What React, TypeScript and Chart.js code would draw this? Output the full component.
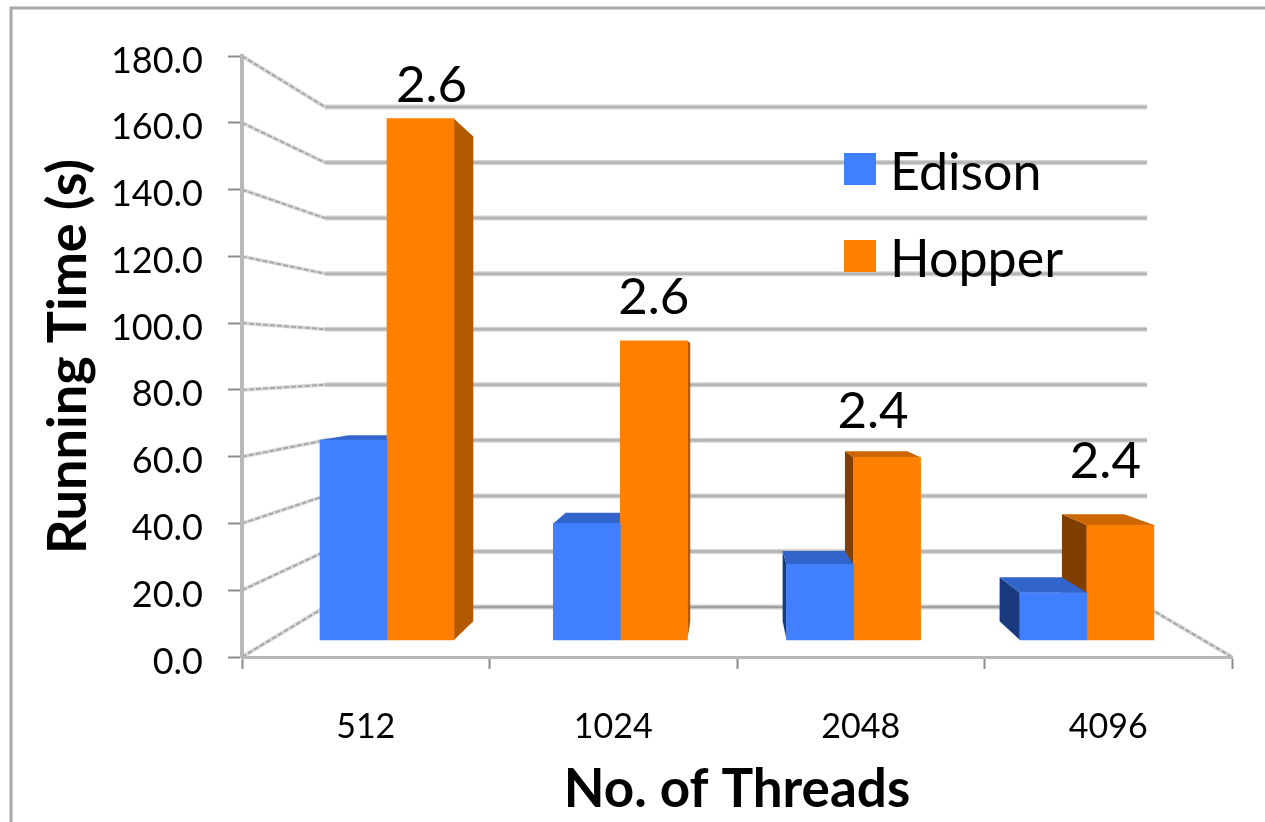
import React, { useEffect, useRef } from "react";
import { Chart, registerables } from "chart.js";

Chart.register(...registerables);

const threadCounts = ["512", "1024", "2048", "4096"];
const edisonTimes = [63.5, 37, 24, 15];
const hopperTimes = [165.5, 95, 58, 36.5];
const ratioLabels = ["2.6", "2.6", "2.4", "2.4"];
const ratioLabelDx = [11, 0, -14, -15];
const ratioLabelDy = [-33, -43, -46, -63];

const FONT = "Lato, Carlito, 'Open Sans', sans-serif";
const EDISON = { front: "#4080ff", top: "#3265cc", side: "#1a3a80" };
const HOPPER = { front: "#ff8000", top: "#cc6600", right: "#b35900", left: "#803f00" };
const VP = { x: 730, y: 372, k: 0.07 };
const backX = (x: number) => x + (VP.x - x) * VP.k;
const backY = (y: number) => y + (VP.y - y) * VP.k;

function quad(ctx: CanvasRenderingContext2D, pts: number[][], color: string) {
  ctx.fillStyle = color;
  ctx.beginPath();
  pts.forEach((p, i) => (i ? ctx.lineTo(p[0], p[1]) : ctx.moveTo(p[0], p[1])));
  ctx.closePath();
  ctx.fill();
}

function drawBox(ctx: CanvasRenderingContext2D, bar: any, colors: any, isHopper: boolean) {
  const l = bar.x - bar.width / 2;
  const r = bar.x + bar.width / 2;
  const t = bar.y;
  const b = bar.base;
  if (backX(l) < l) {
    quad(ctx, [[l, t], [backX(l), backY(t)], [backX(l), backY(b)], [l, b]], isHopper ? colors.left : colors.side);
  }
  if (isHopper && backX(r) > r) {
    quad(ctx, [[r, t], [backX(r), backY(t)], [backX(r), backY(b)], [r, b]], colors.right);
  }
  if (backY(t) < t) {
    quad(ctx, [[l, t], [r, t], [backX(r), backY(t)], [backX(l), backY(t)]], colors.top);
  }
}

const wallsPlugin = {
  id: "walls",
  beforeDraw(chart: any) {
    const { ctx, scales } = chart;
    ctx.save();
    ctx.fillStyle = "#ffffff";
    ctx.fillRect(0, 0, chart.width, chart.height);
    ctx.strokeStyle = "#a8a8a8";
    ctx.lineWidth = 3;
    ctx.beginPath();
    ctx.moveTo(11, 830);
    ctx.lineTo(11, 8);
    ctx.lineTo(1270, 8);
    ctx.stroke();

    const left = scales.y.left + scales.y.width;
    const right = scales.x.right;
    const wallL = 325;
    const wallR = 1147;
    const drawSide = (x0: number, y0: number, x1: number, y1: number) => {
      ctx.strokeStyle = "#dcdcdc";
      ctx.lineWidth = 4;
      ctx.beginPath();
      ctx.moveTo(x0, y0);
      ctx.lineTo(x1, y1);
      ctx.stroke();
      ctx.strokeStyle = "#a8a8a8";
      ctx.lineWidth = 2;
      ctx.setLineDash([5, 2]);
      ctx.beginPath();
      ctx.moveTo(x0, y0);
      ctx.lineTo(x1, y1);
      ctx.stroke();
      ctx.setLineDash([]);
    };
    for (const tick of scales.y.ticks) {
      const yf = scales.y.getPixelForValue(tick.value);
      const yb = scales.yBack.getPixelForValue(tick.value);
      ctx.strokeStyle = "#d4d4d4";
      ctx.lineWidth = 5;
      ctx.beginPath();
      ctx.moveTo(wallL, yb);
      ctx.lineTo(wallR, yb);
      ctx.stroke();
      ctx.strokeStyle = tick.value === 0 ? "#a0a0a0" : "#b4b4b4";
      ctx.lineWidth = 2.5;
      ctx.beginPath();
      ctx.moveTo(wallL, yb);
      ctx.lineTo(wallR, yb);
      ctx.stroke();
      drawSide(left, yf, wallL, yb);
      if (tick.value === 0) drawSide(right, yf, wallR, yb);
    }
    ctx.restore();
  },
  beforeDatasetsDraw(chart: any) {
    const { ctx } = chart;
    const hopperBars = chart.getDatasetMeta(1).data;
    const edisonBars = chart.getDatasetMeta(0).data;
    ctx.save();
    hopperBars.forEach((bar: any) => drawBox(ctx, bar, HOPPER, true));
    edisonBars.forEach((bar: any) => drawBox(ctx, bar, EDISON, false));
    ctx.restore();
  },
  afterDatasetsDraw(chart: any) {
    const { ctx } = chart;
    const hopperBars = chart.getDatasetMeta(1).data;
    ctx.save();
    ctx.fillStyle = "#000000";
    ctx.font = `51px ${FONT}`;
    ctx.textAlign = "center";
    ctx.textBaseline = "middle";
    hopperBars.forEach((bar: any, i: number) => {
      ctx.fillText(ratioLabels[i], bar.x + ratioLabelDx[i], bar.y + ratioLabelDy[i]);
    });
    // legend entries, read from the datasets
    ctx.textAlign = "left";
    ctx.font = `52px ${FONT}`;
    chart.data.datasets.forEach((ds: any, i: number) => {
      const top = 153 + i * 87;
      ctx.fillStyle = ds.backgroundColor;
      ctx.fillRect(844, top, 32, 32);
      ctx.fillStyle = "#000000";
      ctx.fillText(ds.label, 890, top + 20);
    });
    ctx.restore();
  },
};

export default function App() {
  const ref = useRef<HTMLCanvasElement>(null);
  useEffect(() => {
    const chart = new Chart(ref.current as HTMLCanvasElement, {
      type: "bar",
      data: {
        labels: threadCounts,
        datasets: [
          {
            label: "Edison",
            data: edisonTimes.map((y, x) => ({ x, y })),
            backgroundColor: EDISON.front,
            xAxisID: "xBar",
            yAxisID: "yBar",
            barThickness: 67,
            borderWidth: 0,
          },
          {
            label: "Hopper",
            data: hopperTimes.map((y, x) => ({ x, y })),
            backgroundColor: HOPPER.front,
            xAxisID: "xBar",
            yAxisID: "yBar",
            barThickness: 67,
            borderWidth: 0,
          },
        ],
      } as any,
      options: {
        responsive: false,
        animation: false,
        layout: { padding: { top: 56, right: 33, left: 0, bottom: 0 } },
        plugins: {
          tooltip: { enabled: false },
          legend: { display: false },
        },
        scales: {
          x: {
            type: "category",
            labels: threadCounts,
            position: "bottom",
            offset: true,
            grid: { offset: true, drawOnChartArea: false, tickLength: 12, tickWidth: 2, tickColor: "#8c8c8c" },
            border: { color: "#b8b8b8", width: 3 },
            ticks: { color: "#000000", font: { family: FONT, size: 34 }, padding: 38, maxRotation: 0 },
            title: {
              display: true,
              text: "No. of Threads",
              color: "#000000",
              font: { family: FONT, size: 53, weight: "bold" },
              padding: { top: 0, bottom: 0 },
            },
            afterFit: (s: any) => {
              s.height = 165;
            },
          },
          y: {
            type: "linear",
            position: "left",
            min: 0,
            max: 180,
            grid: { drawOnChartArea: false, tickLength: 14, tickWidth: 2, tickColor: "#8c8c8c" },
            border: { color: "#b8b8b8", width: 4 },
            ticks: {
              stepSize: 20,
              color: "#000000",
              font: { family: FONT, size: 36 },
              padding: 25,
              labelOffset: 5,
              callback: (v: any) => Number(v).toFixed(1),
            },
            title: {
              display: true,
              text: "Running Time (s)",
              color: "#000000",
              font: { family: FONT, size: 54, weight: "bold" },
              padding: { top: 36, bottom: 0 },
            },
            afterFit: (s: any) => {
              s.width = 242;
            },
          },
          xBar: { type: "linear", display: false, offset: false, grid: { offset: false }, min: -0.6215, max: 3.622, position: "bottom" },
          yBar: { type: "linear", display: false, min: -5.397, max: 185.397, position: "left" },
          yBack: { type: "linear", display: false, min: -18, max: 198.36, position: "left" },
        },
      } as any,
      plugins: [wallsPlugin],
    });
    return () => chart.destroy();
  }, []);
  return (
    <div style={{ position: "absolute", left: 0, top: 0, width: 1265, height: 822 }}>
      <canvas ref={ref} width={1265} height={822} style={{ display: "block" }} />
    </div>
  );
}
